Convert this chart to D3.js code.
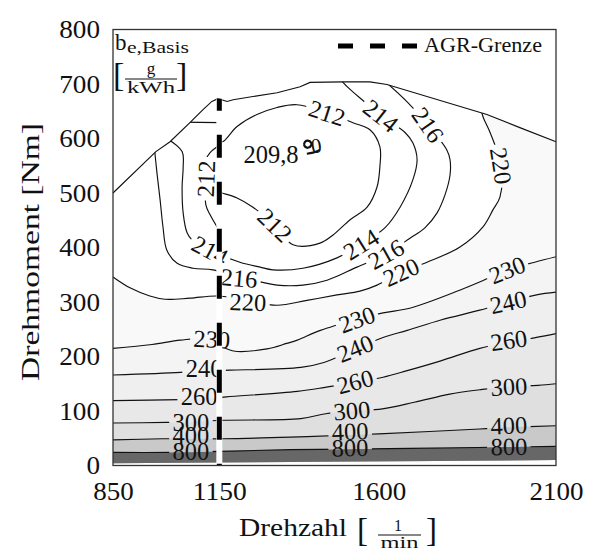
<!DOCTYPE html>
<html><head><meta charset="utf-8">
<script src="https://cdn.jsdelivr.net/npm/d3@7"></script>
<style>
body{margin:0;background:#fff}
text{font-family:"Liberation Serif","DejaVu Serif",serif;fill:#111}
</style></head>
<body><svg id="c" width="592" height="552"></svg>
<script>
// ---------- data (rpm [1/min], torque [Nm]) ----------
const xTicks = [850, 1150, 1600, 2100];
const yTicks = [0, 100, 200, 300, 400, 500, 600, 700, 800];

// full-load (maximum torque) curve
const fullLoad = [[850,500],[971,576],[1011,594],[1067,629],[1104,653],[1129,668],[1146,673],[1172,668],[1189,671],[1245,677],[1313,684],[1378,695],[1406,703],[1499,704],[1575,704],[1623,699],[1905,644],[1998,620],[2100,594]];
// lower edge of the measured map
const lowerBound = [[850,4],[2100,10]];
// AGR limit
const agrLine = [[1150,673],[1150,0]];

// filled levels and their greys
const fillLevels = [220, 230, 240, 260, 300, 400, 800];
const fillGreys  = ["#f9f9f9","#f4f4f4","#efefef","#e8e8e8","#dfdfdf","#c9c9c9","#676767"];

// contour lines: each level is a list of polylines
const line210 = [
  [[1389,589],[1392,594],[1400,596],[1409,592],[1409,587],[1400,583],[1392,585],[1389,589]],
  [[1397,572],[1414,574],[1434,579]]
];
const line212 = [
  [[1039,630],[1152,629]],
  [[1149,607],[1158,594],[1200,622],[1256,644],[1313,657],[1369,662],[1454,647],[1527,629],[1575,616],[1603,585],[1603,548],[1595,511],[1567,474],[1519,451],[1471,423],[1434,408],[1358,405],[1307,441],[1245,474],[1200,491],[1158,500],[1149,502]],
  [[1149,587],[1124,574],[1112,561],[1112,526],[1112,478],[1124,460],[1149,432]]
];
const line214 = [
  [[1000,601],[1045,576],[1048,548],[1045,511],[1048,463],[1059,427],[1073,414],[1124,395],[1208,373],[1265,364],[1301,359],[1386,362],[1482,381],[1550,406],[1617,436],[1660,474],[1696,524],[1708,561],[1696,592],[1674,611],[1606,642],[1553,671],[1519,690],[1499,703],[1491,710]]
];
const line216 = [
  [[966,588],[974,537],[983,487],[991,438],[1002,395],[1031,371],[1076,362],[1132,359],[1206,344],[1265,337],[1313,331],[1386,331],[1454,340],[1538,364],[1620,388],[1688,417],[1730,436],[1764,463],[1787,497],[1801,533],[1801,561],[1792,579],[1739,625],[1682,666],[1612,708]]
];
const line220 = [
  [[850,346],[898,326],[954,311],[997,305],[1067,307],[1146,311],[1231,302],[1313,294],[1397,303],[1482,313],[1547,320],[1595,331],[1663,355],[1736,373],[1829,401],[1894,438],[1922,469],[1942,493],[1945,550],[1914,611],[1894,640],[1885,665]]
];
const line230 = [
  [[850,215],[960,222],[1040,230],[1110,232],[1190,210],[1285,214],[1340,224],[1370,230],[1435,248],[1538,268],[1612,280],[1690,289],[1830,322],[1886,337],[1962,359],[2040,373],[2100,383]]
];
const line240 = [
  [[850,166],[1040,171],[1107,174],[1180,175],[1380,180],[1445,189],[1533,214],[1612,235],[1680,248],[1775,267],[1885,285],[1965,300],[2045,313],[2100,318]]
];
const line260 = [
  [[850,119],[1040,121],[1093,122],[1170,126],[1370,136],[1445,143],[1533,153],[1612,162],[1680,174],[1775,192],[1885,215],[1967,226],[2045,235],[2100,242]]
];
const line300 = [
  [[850,78],[1000,79],[1070,80],[1160,83],[1380,86],[1450,95],[1524,100],[1610,104],[1700,116],[1800,131],[1885,139],[1967,145],[2050,147],[2100,150]]
];
const line400 = [
  [[850,47],[990,49],[1070,49],[1160,49],[1350,52],[1519,56],[1600,58],[1885,67],[1967,70],[2100,73]]
];
const line800 = [
  [[850,24],[1010,24],[1350,29],[1519,30],[1880,33],[1967,34],[2100,35]]
];
const contourLevels = [210, 212, 214, 216, 220, 230, 240, 260, 300, 400, 800];
const contourLines  = [line210, line212, line214, line216, line220, line230, line240, line260, line300, line400, line800];

// inline labels: level, rpm, torque, angle
const labelLevel = [212,212,212,214,214,214,216,216,216,220,220,220,230,230,230,240,240,240,260,260,260,300,300,300,400,400,400,800,800,800];
const labelRpm   = [1112,1454,1307,1124,1550,1606,1206,1620,1739,1231,1663,1945,1129,1538,1962,1107,1533,1965,1093,1533,1967,1070,1524,1967,1070,1519,1967,1070,1519,1967];
const labelTq    = [526,647,441,395,406,642,344,388,625,300,355,550,232,268,359,178,215,300,127,154,230,79,101,145,55,63,74,26,33,35];
const labelAngle = [-88,18,44,28,-32,38,5,-29,55,2,-25,81,3,-20,-22,0,-22,-12,0,-15,-8,0,-5,-3,0,-2,-2,0,-1,-1];
const minLabel = {text:"209,8", rpm:1296, tq:570};
const label210 = {text:"0", rpm:1423, tq:587};

// ---------- drawing ----------
const svg = d3.select("#c");
const x = d3.scaleLinear().domain([850,2100]).range([113,556]);
const y = d3.scaleLinear().domain([0,800]).range([465.5,29.5]);
const W = 592, H = 552;

const smooth = d3.line().x(d=>x(d[0])).y(d=>y(d[1])).curve(d3.curveCatmullRom.alpha(0.5));
const straight = d3.line().x(d=>x(d[0])).y(d=>y(d[1]));

const defs = svg.append("defs");
defs.append("clipPath").attr("id","dataClip")
  .append("path").attr("d", straight(lowerBound.concat(fullLoad.slice().reverse())) + "Z");

// filled bands
const gFill = svg.append("g").attr("clip-path","url(#dataClip)");
fillLevels.forEach((L,i)=>{
  const pts = contourLines[contourLevels.indexOf(L)][0];
  const d = smooth(pts) + `L${x(2100)+20},${y(900)}L${x(2100)+20},${y(-60)}L${x(850)-20},${y(-60)}L${x(850)-20},${y(pts[0][1])}Z`;
  gFill.append("path").attr("d", d).attr("fill", fillGreys[i]).attr("stroke","none");
});

// label masks per level
const labelFont = 24.5;
contourLevels.forEach((L,k)=>{
  const m = defs.append("mask").attr("id","mask"+k).attr("maskUnits","userSpaceOnUse")
    .attr("x",0).attr("y",0).attr("width",W).attr("height",H);
  m.append("rect").attr("width",W).attr("height",H).attr("fill","white");
  labelLevel.forEach((lv,j)=>{
    if(lv!==L) return;
    const w = String(lv).length*12.5 + 6, h = 16;
    m.append("rect").attr("x",-w/2).attr("y",-h/2).attr("width",w).attr("height",h)
      .attr("transform",`translate(${x(labelRpm[j])},${y(labelTq[j])}) rotate(${labelAngle[j]})`)
      .attr("fill","black");
  });
});

// contour lines
const gLines = svg.append("g").attr("clip-path","url(#dataClip)");
contourLevels.forEach((L,k)=>{
  const g = gLines.append("g").attr("mask",`url(#mask${k})`);
  contourLines[k].forEach(pl=>{
    g.append("path").attr("d", smooth(pl)).attr("fill","none")
      .attr("stroke","#111").attr("stroke-width", L===210?2.2:1.15);
  });
});

// full-load curve
svg.append("path").attr("d", straight(fullLoad)).attr("fill","none").attr("stroke","#111").attr("stroke-width",1.15);

// inline labels
const gLab = svg.append("g").attr("font-size",labelFont);
labelLevel.forEach((lv,j)=>{
  gLab.append("text").attr("text-anchor","middle").attr("dy","0.35em")
    .attr("transform",`translate(${x(labelRpm[j])},${y(labelTq[j])}) rotate(${labelAngle[j]})`)
    .text(String(lv));
});
gLab.append("text").attr("text-anchor","middle").attr("dy","0.35em")
  .attr("transform",`translate(${x(minLabel.rpm)},${y(minLabel.tq)})`).text(minLabel.text);
gLab.append("text").attr("text-anchor","middle").attr("dy","0.35em").attr("font-size",21)
  .attr("transform",`translate(${x(label210.rpm)},${y(label210.tq)}) rotate(-8)`).text(label210.text);

// AGR limit: white underlay + thick dashes
svg.append("path").attr("d", straight(agrLine)).attr("stroke","#fff").attr("stroke-width",6).attr("fill","none");
svg.append("path").attr("d", straight(agrLine)).attr("stroke","#000").attr("stroke-width",5)
  .attr("stroke-dasharray","23 24").attr("stroke-dashoffset",11).attr("fill","none");

// frame
svg.append("rect").attr("x",x(850)).attr("y",y(800)).attr("width",x(2100)-x(850)).attr("height",y(0)-y(800))
  .attr("fill","none").attr("stroke","#333").attr("stroke-width",1.3);

// axes
const gy = svg.append("g").attr("transform",`translate(${x(850)},0)`)
  .call(d3.axisLeft(y).tickValues(yTicks).tickSize(0).tickPadding(13).tickFormat(d3.format("d")));
gy.select(".domain").remove();
gy.attr("font-family","Liberation Serif").attr("font-size",25).attr("color","#111");
gy.selectAll("text").attr("textLength",d=>String(d).length*13.6).attr("lengthAdjust","spacingAndGlyphs");

const gx = svg.append("g").attr("transform",`translate(0,${y(0)})`)
  .call(d3.axisBottom(x).tickValues(xTicks).tickSize(0).tickPadding(17).tickFormat(d3.format("d")));
gx.select(".domain").remove();
gx.attr("font-family","Liberation Serif").attr("font-size",25).attr("color","#111");
gx.selectAll("text").attr("textLength",d=>String(d).length*13.5).attr("lengthAdjust","spacingAndGlyphs");

// axis titles
svg.append("text").attr("transform","translate(39,252) rotate(-90)").attr("text-anchor","middle")
  .attr("font-size",25).attr("textLength",258).attr("lengthAdjust","spacingAndGlyphs").text("Drehmoment [Nm]");

svg.append("text").attr("x",239).attr("y",536).attr("font-size",25)
  .attr("textLength",108).attr("lengthAdjust","spacingAndGlyphs").text("Drehzahl");
svg.append("text").attr("x",357).attr("y",541).attr("font-size",33).text("[");
svg.append("text").attr("x",398).attr("y",531).attr("font-size",16).attr("text-anchor","middle").text("1");
svg.append("line").attr("x1",378).attr("x2",421).attr("y1",535).attr("y2",535).attr("stroke","#111").attr("stroke-width",1);
svg.append("text").attr("x",399.5).attr("y",548).attr("font-size",16).attr("text-anchor","middle")
  .attr("textLength",38).attr("lengthAdjust","spacingAndGlyphs").text("min");
svg.append("text").attr("x",426).attr("y",541).attr("font-size",33).text("]");

// map quantity label
svg.append("text").attr("x",115).attr("y",50).attr("font-size",23).text("b");
svg.append("text").attr("x",127).attr("y",53).attr("font-size",17)
  .attr("textLength",62).attr("lengthAdjust","spacingAndGlyphs").text("e,Basis");
svg.append("text").attr("x",113).attr("y",86).attr("font-size",34).text("[");
svg.append("text").attr("x",151).attr("y",74).attr("font-size",17).attr("text-anchor","middle").text("g");
svg.append("line").attr("x1",125).attr("x2",177).attr("y1",79).attr("y2",79).attr("stroke","#111").attr("stroke-width",1);
svg.append("text").attr("x",151).attr("y",93).attr("font-size",16).attr("text-anchor","middle")
  .attr("textLength",48).attr("lengthAdjust","spacingAndGlyphs").text("kWh");
svg.append("text").attr("x",176).attr("y",86).attr("font-size",34).text("]");

// legend
svg.append("line").attr("x1",338).attr("x2",417).attr("y1",46).attr("y2",46)
  .attr("stroke","#000").attr("stroke-width",5).attr("stroke-dasharray","15 17");
svg.append("text").attr("x",424).attr("y",52).attr("font-size",21)
  .attr("textLength",118).attr("lengthAdjust","spacingAndGlyphs").text("AGR-Grenze");
</script></body></html>
